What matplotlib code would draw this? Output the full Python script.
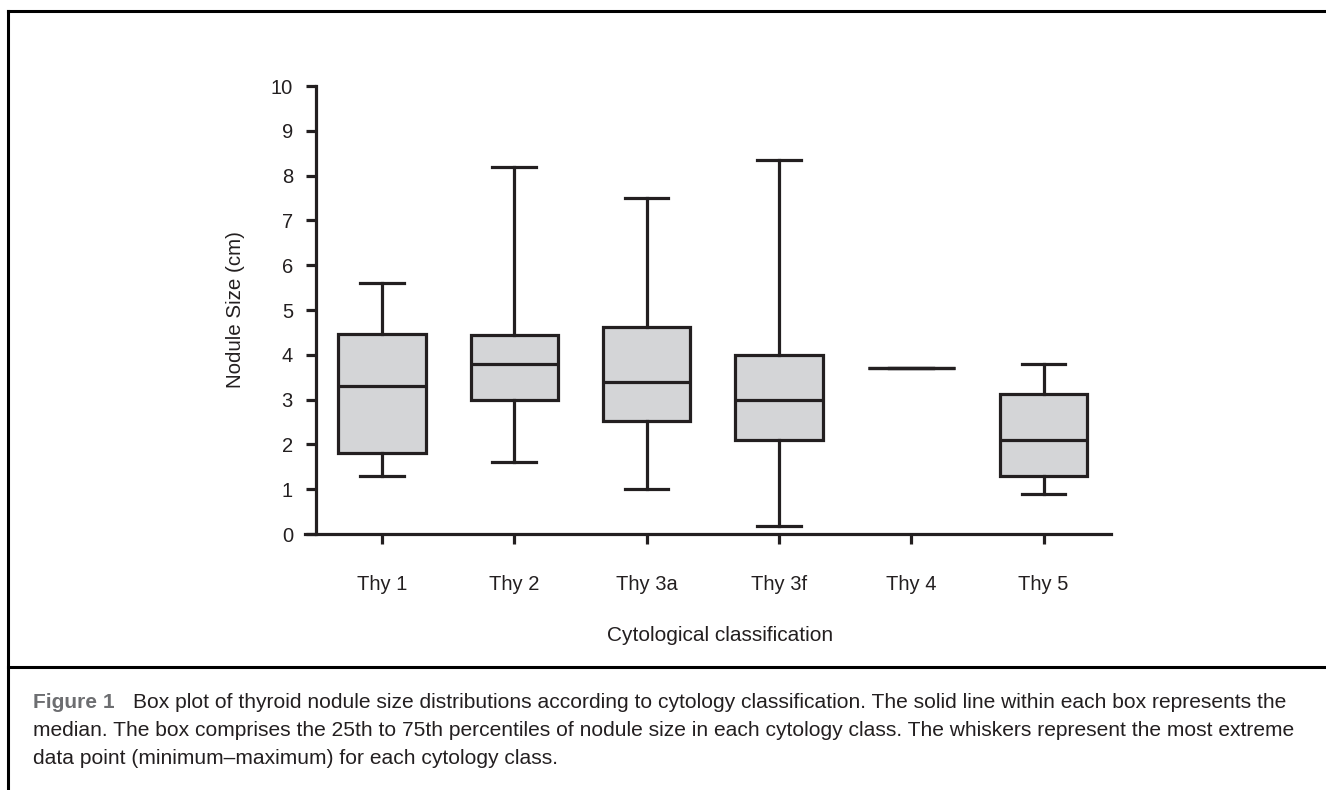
import matplotlib
matplotlib.use('Agg')
import matplotlib.pyplot as plt
from matplotlib.lines import Line2D

plt.rcParams['font.family'] = ['Liberation Sans', 'DejaVu Sans']

classes = ['Thy 1', 'Thy 2', 'Thy 3a', 'Thy 3f', 'Thy 4', 'Thy 5']
minimum = [1.3, 1.6, 1.0, 0.18, 3.7, 0.9]
q1 = [1.8, 3.0, 2.52, 2.09, 3.7, 1.29]
median = [3.3, 3.8, 3.4, 3.0, 3.7, 2.09]
q3 = [4.47, 4.44, 4.61, 3.99, 3.7, 3.13]
maximum = [5.6, 8.2, 7.5, 8.35, 3.7, 3.8]

caption_lines = [
    'Box plot of thyroid nodule size distributions according to cytology classification. The solid line within each box represents the',
    'median. The box comprises the 25th to 75th percentiles of nodule size in each cytology class. The whiskers represent the most extreme',
    'data point (minimum\u2013maximum) for each cytology class.',
]

ink = '#231f20'
W, H = 1326, 790
fig = plt.figure(figsize=(W / 100, H / 100), dpi=100)

# axes box in pixel coordinates
left, right, bottom, top = 305, 1111, 534, 86
ax = fig.add_axes([left / W, 1 - bottom / H, (right - left) / W, (bottom - top) / H])

stats = []
for i in range(len(classes)):
    stats.append({'whislo': minimum[i], 'q1': q1[i], 'med': median[i],
                  'q3': q3[i], 'whishi': maximum[i], 'fliers': [], 'label': classes[i]})

lw = 2.3
ax.bxp(stats, positions=range(1, len(classes) + 1), widths=0.66, capwidths=0.33,
       patch_artist=True, showfliers=False,
       boxprops=dict(facecolor='#d4d5d7', edgecolor=ink, linewidth=lw),
       medianprops=dict(color=ink, linewidth=lw),
       whiskerprops=dict(color=ink, linewidth=lw),
       capprops=dict(color=ink, linewidth=lw))

ax.set_xlim(0.418, 6.51)
ax.set_ylim(0, 10)
ax.set_yticks(range(0, 11))
ax.set_xticks(range(1, len(classes) + 1))
ax.set_xticklabels(classes)

for s in ['top', 'right']:
    ax.spines[s].set_visible(False)
ax.spines['left'].set_position(('data', 0.5))
for s in ['left', 'bottom']:
    ax.spines[s].set_linewidth(lw)
    ax.spines[s].set_color(ink)

ax.tick_params(axis='both', colors=ink, width=lw, length=7.5, labelsize=14.5, labelcolor=ink)
ax.tick_params(axis='y', pad=9)
ax.tick_params(axis='x', pad=22)

ax.set_ylabel('Nodule Size (cm)', fontsize=14.8, color=ink)
ax.yaxis.set_label_coords((245 - left) / (right - left), 0.5)
ax.set_xlabel('Cytological classification', fontsize=15, color=ink)
ax.xaxis.set_label_coords((720 - left) / (right - left), -(626 - bottom) / (bottom - top))

# figure frame lines
frame = dict(color='black', linewidth=2.2, transform=fig.transFigure)
fig.add_artist(Line2D([8 / W, 1], [1 - 11 / H, 1 - 11 / H], **frame))
fig.add_artist(Line2D([8 / W, 8 / W], [0, 1 - 11 / H], **frame))
fig.add_artist(Line2D([8 / W, 1], [1 - 667 / H, 1 - 667 / H], **frame))

# caption
cap_size = 15.1
fig.text(33 / W, 1 - 703 / H, 'Figure 1', fontsize=cap_size, fontweight='bold',
         color='#6d6e71', va='center')
fig.text(133 / W, 1 - 703 / H, caption_lines[0], fontsize=cap_size, color=ink, va='center')
fig.text(33 / W, 1 - 731 / H, caption_lines[1], fontsize=cap_size, color=ink, va='center')
fig.text(33 / W, 1 - 758 / H, caption_lines[2], fontsize=cap_size, color=ink, va='center')

fig.savefig('out.png', dpi=100)
